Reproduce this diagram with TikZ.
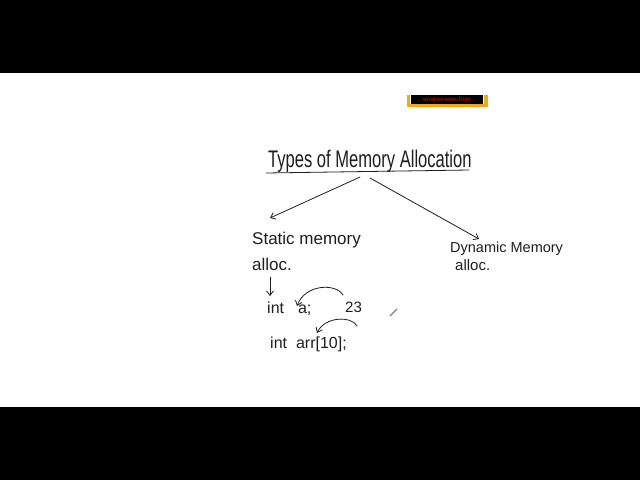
\documentclass[tikz,border=0pt]{standalone}
\usepackage{fontspec}
\setmainfont{Liberation Sans}
\usetikzlibrary{arrows.meta}
\definecolor{ink}{HTML}{1E1E1E}
\definecolor{bracketorange}{HTML}{F2A81D}
\definecolor{wmred}{HTML}{C0201A}
\tikzset{
  hw/.style={inner sep=0pt, text=ink, anchor=base west},
  pen/.style={draw=ink, line width=0.8pt, line cap=round, line join=round},
  penarrow/.style={pen, -{Straight Barb[length=4.5pt,width=7pt]}},
}
\begin{document}
\begin{tikzpicture}[x=1pt,y=-1pt]
\useasboundingbox (0,0) rectangle (640,480);
\fill[white] (0,0) rectangle (640,480);
% black bars
\fill[black] (0,0) rectangle (640,73);
\fill[black] (0,407) rectangle (640,480);
% watermark bracket
\fill[bracketorange] (407,95) rectangle (410,107);
\fill[bracketorange] (407,104) rectangle (488,107);
\fill[bracketorange] (484,95) rectangle (488,107);
\fill[black] (411,95) rectangle (483,103.5);
\node[inner sep=0pt, text=wmred, font=\fontsize{6}{6}\selectfont] (wm) at (447,99.5) {window.www.from};
% title
\node[hw, font=\fontsize{24}{24}\selectfont] (title) at (268,167) {\scalebox{0.69}[1]{Types of Memory Allocation}};
\coordinate (ulA) at (266,173);
\coordinate (ulB) at (469,170);
\draw[pen] (ulA) -- (ulB);
% branch arrows
\coordinate (brL) at (360,177);
\coordinate (tipL) at (270,218);
\coordinate (brR) at (370,178);
\coordinate (tipR) at (479,239);
\draw[penarrow] (brL) -- (tipL);
\draw[penarrow] (brR) -- (tipR);
% static branch
\node[hw, font=\fontsize{17}{17}\selectfont] (static) at (252,244) {Static memory};
\node[hw, font=\fontsize{17}{17}\selectfont] (salloc) at (252,270) {alloc.};
\coordinate (dA) at (270,277);
\coordinate (dB) at (270,296);
\draw[penarrow] (dA) -- (dB);
\node[hw, font=\fontsize{16}{16}\selectfont] (inta) at (267,313) {int\hspace{14pt}a;};
\node[hw, font=\fontsize{15}{15}\selectfont] (val) at (345,312) {23};
\node[hw, font=\fontsize{16}{16}\selectfont] (intarr) at (270,348) {int\hspace{9pt}arr[10];};
% curved arrows
\coordinate (c1s) at (343,295);
\coordinate (c1e) at (297,306);
\draw[penarrow] (c1s) .. controls (336,283) and (305,284) .. (c1e);
\coordinate (c2s) at (357,326);
\coordinate (c2e) at (317,333);
\draw[penarrow] (c2s) .. controls (352,316) and (325,316) .. (c2e);
% pen mark
\coordinate (pmA) at (390,316);
\coordinate (pmB) at (397,309);
\draw[draw=gray, line width=1.2pt, line cap=round] (pmA) -- (pmB);
% dynamic branch
\node[hw, font=\fontsize{14.5}{14.5}\selectfont] (dyn) at (450,252) {Dynamic Memory};
\node[hw, font=\fontsize{15}{15}\selectfont] (dalloc) at (455,270) {alloc.};
\end{tikzpicture}
\end{document}
